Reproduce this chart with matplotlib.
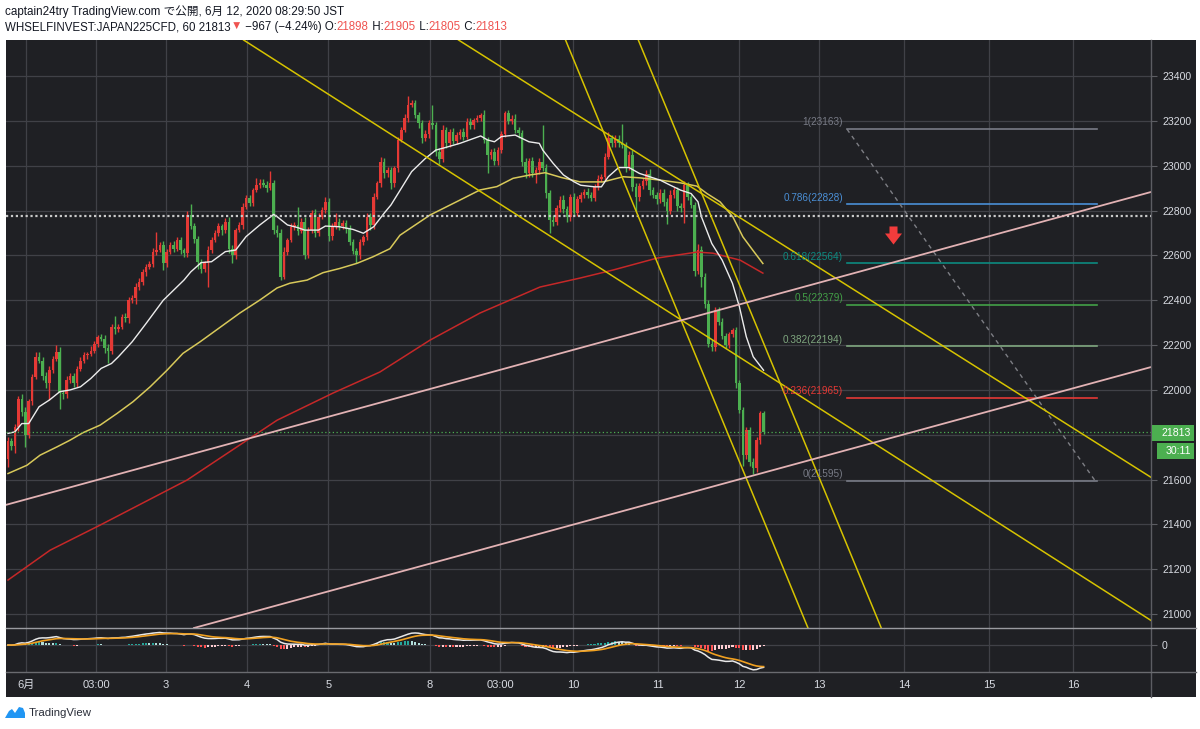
"""TradingView style JAPAN225 hourly chart with MAs, trend lines, fib levels and MACD."""
import matplotlib

matplotlib.use("Agg")

import matplotlib.pyplot as plt  # noqa: E402
import numpy as np  # noqa: E402
import pandas as pd  # noqa: E402
from matplotlib.lines import Line2D  # noqa: E402
from matplotlib.patches import Polygon, Rectangle  # noqa: E402
from matplotlib.path import Path  # noqa: E402

plt.rcParams["font.family"] = ["Liberation Sans", "Noto Sans CJK JP"]

# ---- data (prices in index points, x in bar numbers) ----
first_open = 21690
closes = [
    21770, 21750, 21835, 21960, 21900, 21800, 21950, 22058, 22148, 22130,
    22060, 22030, 22090, 22140, 22170, 21985, 21980, 22043, 22060, 22030,
    22095, 22130, 22155, 22160, 22175, 22205, 22235, 22228, 22185, 22175,
    22280, 22270, 22280, 22325, 22320, 22400, 22410, 22460, 22480, 22525,
    22550, 22560, 22615, 22625, 22645, 22565, 22615, 22645, 22630, 22668,
    22625, 22610, 22780, 22730, 22675, 22570, 22540, 22565, 22625, 22669,
    22700, 22730, 22713, 22750, 22630, 22600, 22713, 22735, 22818, 22855,
    22835, 22892, 22914, 22925, 22914, 22900, 22922, 22714, 22699, 22505,
    22617, 22669, 22728, 22735, 22710, 22750, 22602, 22713, 22788, 22700,
    22773, 22803, 22840, 22685, 22728, 22750, 22730, 22743, 22720, 22660,
    22620, 22600, 22660, 22680, 22773, 22735, 22862, 22921, 23018, 22966,
    22980, 22921, 22988, 23115, 23160, 23212, 23271, 23279, 23226, 23190,
    23125, 23140, 23190, 23180, 23063, 23030, 23160, 23100, 23150, 23110,
    23135, 23150, 23130, 23197, 23180, 23204, 23215, 23227, 23115, 23048,
    23060, 23020, 23070, 23140, 23234, 23200, 23210, 23160, 23145, 23018,
    22966, 23020, 22966, 22980, 23018, 22990, 22877, 22760, 22750, 22810,
    22848, 22805, 22770, 22860, 22790, 22850, 22869, 22885, 22870, 22858,
    22905, 22943, 22950, 23040, 23122, 23100, 23120, 23100, 23092, 22995,
    23050, 22906, 22860, 22910, 22930, 22965, 22890, 22870, 22850, 22880,
    22840, 22800, 22870, 22890, 22820, 22810, 22913, 22861, 22825, 22530,
    22625, 22505, 22385, 22207, 22190, 22356, 22305, 22240, 22200, 22250,
    22267, 22029, 21910, 21709, 21820, 21680, 21650, 21776, 21898, 21813,
]
upper_wick = [
    20, 15, 15, 15, 20, 25, 10, 15, 22, 20, 15, 20, 15, 10, 30, 20, 15, 20, 15, 15,
    10, 15, 15, 10, 20, 15, 10, 15, 15, 20, 15, 50, 15, 15, 20, 15, 15, 15, 20, 15,
    10, 15, 20, 80, 15, 20, 15, 15, 20, 15, 15, 10, 20, 50, 15, 10, 15, 10, 15, 15,
    15, 15, 10, 15, 20, 15, 10, 15, 15, 15, 15, 10, 30, 15, 15, 20, 53, 15, 20, 20,
    20, 10, 15, 15, 83, 15, 20, 15, 15, 20, 15, 15, 20, 15, 15, 40, 15, 15, 15, 15,
    15, 15, 15, 10, 15, 15, 15, 10, 20, 15, 15, 15, 10, 15, 15, 20, 40, 15, 15, 15,
    15, 20, 15, 80, 15, 15, 20, 15, 15, 20, 15, 15, 20, 15, 15, 10, 10, 10, 20, 15,
    15, 20, 15, 15, 10, 15, 15, 20, 15, 15, 15, 15, 20, 15, 15, 165, 20, 15, 20, 15,
    15, 20, 15, 15, 20, 15, 15, 10, 15, 15, 15, 15, 15, 15, 28, 15, 15, 15, 85, 15,
    15, 20, 15, 15, 15, 15, 20, 15, 15, 15, 15, 15, 20, 15, 15, 15, 20, 15, 15, 15,
    25, 15, 15, 15, 20, 15, 15, 15, 15, 10, 10, 15, 15, 15, 15, 15, 15, 15, 7, 7,
]
lower_wick = [
    35, 20, 30, 20, 15, 55, 15, 15, 10, 10, 15, 20, 75, 15, 10, 70, 20, 15, 10, 15,
    15, 10, 10, 15, 10, 10, 15, 10, 20, 57, 15, 20, 10, 10, 15, 20, 10, 25, 15, 10,
    15, 10, 10, 15, 10, 30, 15, 10, 15, 10, 20, 15, 15, 10, 20, 30, 20, 15, 105, 15,
    10, 15, 20, 15, 20, 35, 15, 10, 15, 10, 15, 15, 10, 15, 10, 15, 10, 20, 15, 15,
    10, 15, 10, 15, 20, 10, 20, 15, 15, 20, 15, 10, 15, 20, 15, 10, 15, 10, 20, 15,
    15, 35, 15, 15, 10, 20, 15, 10, 15, 20, 15, 25, 15, 15, 10, 10, 15, 10, 15, 20,
    25, 15, 15, 15, 20, 20, 15, 20, 15, 15, 15, 15, 15, 10, 15, 15, 10, 15, 15, 80,
    20, 15, 15, 15, 10, 15, 15, 15, 20, 20, 20, 15, 15, 45, 15, 15, 20, 60, 20, 15,
    15, 15, 20, 15, 15, 15, 10, 15, 15, 15, 15, 15, 15, 15, 10, 15, 15, 15, 15, 25,
    15, 20, 60, 15, 15, 15, 20, 15, 20, 15, 20, 60, 15, 15, 20, 15, 65, 15, 15, 20,
    15, 45, 20, 17, 15, 15, 15, 15, 15, 15, 15, 20, 15, 50, 15, 18, 23, 15, 15, 8,
]

white_ma_bars = [
    0, 2, 4, 6, 9, 12, 15, 18, 21, 24, 27, 30, 32, 36, 40, 45, 48, 51, 53, 56,
    59, 63, 66, 69, 73, 77, 78, 81, 84, 86, 90, 92, 96, 100, 103, 106, 109, 111, 117, 121,
    124, 126, 131, 137, 139, 141, 143, 147, 151, 154, 155, 158, 161, 164, 166, 170, 172, 174, 177, 180,
    183, 186, 189, 192, 195, 198, 200, 201, 204, 207, 210, 212, 214, 216, 219,
]
white_ma = [
    21806, 21813, 21850, 21850, 21925, 21955, 21992, 22000, 22014, 22051,
    22096, 22118, 22148, 22215, 22296, 22400, 22445, 22490, 22527, 22568,
    22572, 22617, 22624, 22684, 22736, 22783, 22773, 22736, 22724, 22713,
    22713, 22731, 22728, 22716, 22699, 22728, 22788, 22825, 22974, 23033,
    23070, 23078, 23100, 23133, 23115, 23107, 23130, 23137, 23107, 23100,
    23070, 23011, 22959, 22929, 22913, 22906, 22906, 22951, 22992, 22992,
    22966, 22951, 22936, 22913, 22891, 22876, 22839, 22772, 22653, 22579,
    22475, 22371, 22237, 22148, 22088,
]
yellow_ma_bars = [
    0, 5.5, 9.3, 14.2, 18, 21.7, 26.7, 31.6, 36.2, 41.2, 46.1, 50.7, 55.7, 67.2, 73,
    78, 81.7, 86.7, 91.3, 96.2, 101.2, 105.8, 110.7, 113.6, 122.3, 131, 136.8, 141.7, 146.4, 151.3,
    155.7, 160.3, 165.8, 172.5, 178.3, 183.2, 189, 194.8, 199.7, 202.6, 206.4, 210.1, 213, 215.9, 218.8,
]
yellow_ma = [
    21627, 21664, 21709, 21746, 21776, 21809, 21843, 21895, 21947, 22014, 22088, 22163, 22215, 22343, 22401,
    22455, 22476, 22490, 22523, 22542, 22565, 22594, 22630, 22690, 22780, 22847, 22892, 22907, 22944, 22959,
    22969, 22948, 22928, 22928, 22951, 22946, 22936, 22924, 22909, 22876, 22839, 22772, 22683, 22623, 22564,
]
red_ma_bars = [0, 12.2, 26.7, 51.9, 78, 94.2, 107.8, 122.3, 136.8, 154.2, 165.8, 175.4, 188.1, 199.7, 204.3, 212.2, 218.8]
red_ma = [21152, 21285, 21397, 21598, 21865, 21986, 22080, 22222, 22343, 22459, 22499, 22535, 22588, 22615, 22610, 22579, 22521]

# drawn trend lines: two anchor points each (bar, price)
yellow_lines = [
    ((107.8, 23172), (223.8, 22030)),
    ((149.0, 23382), (223.8, 22655)),
    ((166.4, 23382), (214.2, 21598)),
    ((187.5, 23382), (223.8, 22030)),
]
pink_lines = [
    ((-0.9, 21486), (331.3, 22883)),
    ((53.9, 20938), (331.3, 22102)),
]

fib_ratios = ["1", "0.786", "0.618", "0.5", "0.382", "0.236", "0"]
fib_prices = [23163, 22828, 22564, 22379, 22194, 21965, 21595]
fib_colors = ["#787b86", "#4a8fd6", "#0c8a80", "#43a047", "#7fa77f", "#e53935", "#787b86"]
fib_span = (243.2, 315.7)
fib_trend = ((243.2, 23163), (315.1, 21595))
arrow_at = (256.5, 22690)

dotted_level = 22778
last_price = 21813
countdown = "30:11"

time_ticks = [5.2, 25.5, 45.8, 69.3, 92.8, 122.3, 142.6, 163.8, 188.4, 211.9, 235.1, 259.7, 284.3, 308.7]
time_labels = ["6月", "03:00", "3", "4", "5", "8", "03:00", "10", "11", "12", "13", "14", "15", "16"]
price_ticks = list(range(21000, 23401, 200))

header_1 = "captain24try TradingView.com で公開, 6月 12, 2020 08:29:50 JST"

# ---- style ----
BG = "#1f2024"
GRID = "#404147"
BORDER = "#5c5d63"
TEXT = "#d8dbe2"
UP = "#e53935"
DOWN = "#4caf50"
YELLOW = "#d6c300"
PINK = "#e2b2b4"
DARK = "#131722"
RED_TXT = "#ef5350"

W, H = 1200, 729
fig = plt.figure(figsize=(W / 100, H / 100), dpi=100, facecolor="white")


def fig_rect(x0, y0, x1, y1):
    """Pixel box (top-left origin) -> figure fraction [l, b, w, h]."""
    return [x0 / W, 1 - y1 / H, (x1 - x0) / W, (y1 - y0) / H]


def fx(x):
    return x / W


def fy(y):
    return 1 - y / H


l, b, w, h = fig_rect(6, 40, 1196, 697)
fig.patches.append(Rectangle((l, b), w, h, transform=fig.transFigure, facecolor=BG, edgecolor="none", zorder=-5))

ax = fig.add_axes(fig_rect(6, 40, 1151, 628))
macd_ax = fig.add_axes(fig_rect(6, 628, 1151, 672), sharex=ax)
for a in (ax, macd_ax):
    a.set_facecolor(BG)
    for s in a.spines.values():
        s.set_visible(False)
    a.grid(True, color=GRID, lw=0.9)
    a.set_axisbelow(True)

# ---- candles ----
closes_arr = np.array(closes, dtype=float)
opens = np.r_[first_open, closes_arr[:-1]]
highs = np.maximum(opens, closes_arr) + np.array(upper_wick)
lows = np.minimum(opens, closes_arr) - np.array(lower_wick)
bars = np.arange(len(closes_arr))
colors = np.where(closes_arr >= opens, UP, DOWN)
ax.vlines(bars, lows, highs, colors=colors, lw=1, zorder=3)
body = np.maximum(np.abs(closes_arr - opens), 4)
ax.bar(bars, body, bottom=np.minimum(opens, closes_arr), width=0.74, color=colors, zorder=3, lw=0)

# ---- moving averages ----
ax.plot(red_ma_bars, red_ma, color="#c62828", lw=1.1, zorder=4)
ax.plot(yellow_ma_bars, yellow_ma, color="#d8c95a", lw=1.1, zorder=4)
ax.plot(white_ma_bars, white_ma, color="#ececec", lw=1.0, zorder=4)

# ---- drawings ----
for p1, p2 in yellow_lines:
    ax.axline(p1, p2, color=YELLOW, lw=1.1, zorder=5)
for p1, p2 in pink_lines:
    ax.axline(p1, p2, color=PINK, lw=1.3, zorder=5)

ax.axhline(dotted_level, color="#c9c9c9", lw=1.6, ls=(0, (1, 1.2)), zorder=4)
ax.axhline(last_price, color=DOWN, lw=0.9, ls=(0, (1, 2)), zorder=4)

for ratio, price, col in zip(fib_ratios, fib_prices, fib_colors):
    ax.plot(fib_span, [price, price], color=col, lw=1.2, zorder=4)
    ax.text(fib_span[0] - 1.2, price + 8, f"{ratio}({price})", color=col, fontsize=7.2,
            ha="right", va="bottom", zorder=6)
(tx0, ty0), (tx1, ty1) = fib_trend
ax.plot([tx0, tx1], [ty0, ty1], color="#7d7e84", lw=1, ls=(0, (3, 3)), zorder=4)

arrow = Path([(-4, 9), (4, 9), (4, 2), (8.5, 2), (0, -9), (-8.5, 2), (-4, 2), (-4, 9)])
ax.plot([arrow_at[0]], [arrow_at[1]], marker=arrow, markersize=13, color="#f23c3c", mec="none", zorder=6)

# ---- axes scaling / ticks ----
ax.set_xlim(-0.58, 331.3)
ax.set_ylim(20938, 23561)
ax.set_xticks(time_ticks)
ax.set_yticks(price_ticks)
# the 21800 label sits under the last-price tag, as on the original
ax.set_yticklabels(["" if abs(p - last_price) < 40 else str(p) for p in price_ticks])
ax.yaxis.tick_right()
ax.tick_params(axis="x", length=0, labelbottom=False)
ax.tick_params(axis="y", length=4, color=BORDER, labelcolor=TEXT, labelsize=7.6, pad=4)

# ---- MACD (12, 26, 9) from the closes ----
s = pd.Series(closes_arr)
macd = s.ewm(span=12, adjust=False).mean() - s.ewm(span=26, adjust=False).mean()
signal = macd.ewm(span=9, adjust=False).mean()
hist = (macd - signal).to_numpy()
prev = np.r_[0, hist[:-1]]
hist_colors = np.where(hist >= 0, np.where(hist > prev, "#26a69a", "#b2dfdb"),
                       np.where(hist > prev, "#ffcdd2", "#ff5252"))
macd_ax.bar(bars, hist, width=0.6, color=hist_colors, lw=0, zorder=3)
macd_ax.plot(bars, macd, color="#e8e8e8", lw=1.1, zorder=4)
macd_ax.plot(bars, signal, color="#f0a020", lw=1.2, zorder=4)
macd_ax.set_ylim(-300, 190)
macd_ax.set_yticks([0])
macd_ax.yaxis.tick_right()
macd_ax.tick_params(axis="y", length=4, color=BORDER, labelcolor=TEXT, labelsize=7.6, pad=4)
macd_ax.set_xticks(time_ticks)
macd_ax.set_xticklabels(time_labels)
macd_ax.tick_params(axis="x", length=0, labelcolor=TEXT, labelsize=8, pad=6)

# ---- frame lines ----
fig.add_artist(Line2D([fx(1151)] * 2, [fy(40), fy(697)], color=BORDER, lw=1))
fig.add_artist(Line2D([fx(6), fx(1196)], [fy(628)] * 2, color="#9a9ba0", lw=1))
fig.add_artist(Line2D([fx(6), fx(1196)], [fy(672)] * 2, color="#6a6b70", lw=1))

# ---- last price tags ----
for (x0, y0, x1, y1), txt in (((1152, 425, 1194, 441), f"{last_price}"), ((1157, 443, 1194, 459), countdown)):
    l, b, w, h = fig_rect(x0, y0, x1, y1)
    fig.patches.append(Rectangle((l, b), w, h, transform=fig.transFigure, facecolor=DOWN, edgecolor="none", zorder=5))
    fig.text(fx(x1 - 3), fy((y0 + y1) / 2), txt, color="white", fontsize=7.6, ha="right", va="center", zorder=6)

# ---- header ----
renderer = fig.canvas.get_renderer()
fig.text(fx(5), fy(12), header_1, color=DARK, fontsize=8.4, ha="left", va="center")
runs = [
    ("WHSELFINVEST:JAPAN225CFD, 60 21813", DARK), ("▼", RED_TXT), (" −967 (−4.24%) O:", DARK),
    ("21898", RED_TXT), (" H:", DARK), ("21905", RED_TXT), (" L:", DARK), ("21805", RED_TXT),
    (" C:", DARK), ("21813", RED_TXT),
]
x = 5
for txt, col in runs:
    t = fig.text(fx(x), fy(27), txt, color=col, fontsize=8.3, ha="left", va="center",
                 family=["Liberation Sans", "DejaVu Sans"])
    x += t.get_window_extent(renderer).width

# ---- footer logo ----
logo = [(5, 718), (9, 711), (12, 709), (15, 713), (19, 707), (23, 708), (25, 713), (25, 718)]
fig.patches.append(Polygon([(fx(px), fy(py)) for px, py in logo], closed=True,
                           transform=fig.transFigure, facecolor="#2196f3", edgecolor="none"))
fig.text(fx(29), fy(713), "TradingView", color="#2a2e39", fontsize=8.2, ha="left", va="center")

fig.savefig("out.png", dpi=100, facecolor="white")
